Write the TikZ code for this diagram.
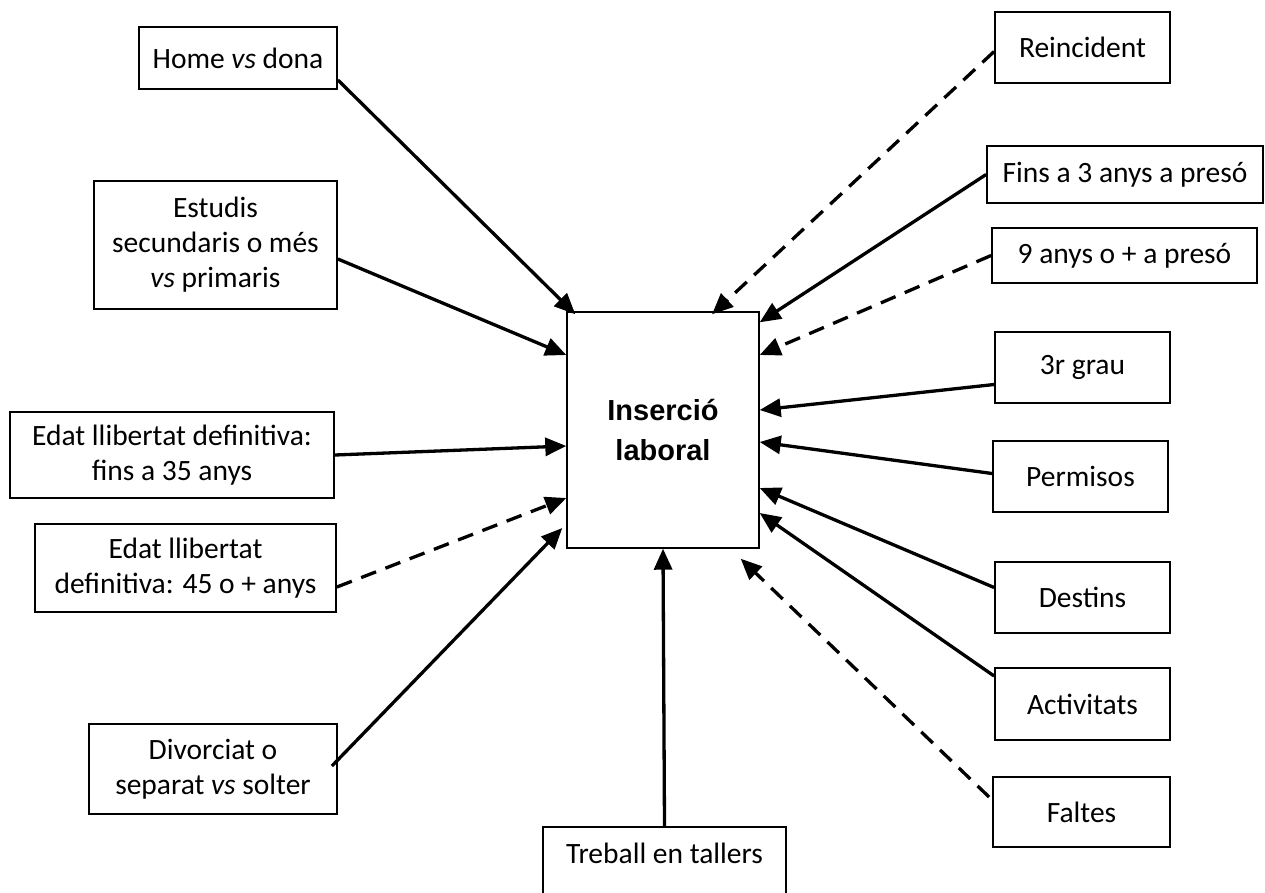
\documentclass[tikz,border=0pt]{standalone}
\usepackage{fontspec}
\setmainfont{Carlito}
\newfontfamily\arialfont{Liberation Sans}
\usetikzlibrary{arrows.meta}

\begin{document}
\begin{tikzpicture}[x=1pt, y=-1pt]
    \tikzstyle{factor}=[draw, line width=1.8pt, inner sep=0pt, align=center, font=\fontsize{29.5}{35}\selectfont]
    \tikzstyle{link}=[line width=3.3pt, -{Triangle[length=21pt, width=18pt]}]
    \tikzstyle{weak}=[link, dash pattern=on 16pt off 10pt]

    \useasboundingbox (0,0) rectangle (1265,892);
    \clip (0,0) rectangle (1265,892);

    \node[draw, line width=1.4pt, minimum width=192pt, minimum height=236pt, align=center, font=\arialfont\bfseries\fontsize{29}{40}\selectfont] (ins) at (663,430) {Inserció\\laboral};

    \node[factor, minimum width=198pt, minimum height=62pt] (home) at (238,58) {Home \textit{vs} dona};
    \node[factor, minimum width=243pt, minimum height=128pt] (estudis) at (215.5,245) {Estudis\\secundaris o més\\\textit{vs} primaris};
    \node[factor, minimum width=324pt, minimum height=86pt] (edat35) at (172,455) {Edat llibertat definitiva:\\fins a 35 anys};
    \node[factor, minimum width=301pt, minimum height=88pt] (edat45) at (185.5,568) {Edat llibertat\\definitiva: 45 o + anys};
    \node[factor, minimum width=248pt, minimum height=90pt] (divorci) at (213,769) {Divorciat o\\separat \textit{vs} solter};
    \node[factor, anchor=base, minimum width=243pt, text height=36pt, text depth=60pt] (treball) at (664.5,863) {Treball en tallers};

    \node[factor, minimum width=175pt, minimum height=71pt] (reinc) at (1082.5,47.5) {Reincident};
    \node[factor, minimum width=276pt, minimum height=57pt] (fins3) at (1125,174.5) {Fins a 3 anys a presó};
    \node[factor, minimum width=265pt, minimum height=55pt] (nou) at (1124.5,255.5) {9 anys o + a presó};
    \node[factor, minimum width=175pt, minimum height=71pt] (grau) at (1082.5,367.5) {3r grau};
    \node[factor, minimum width=175pt, minimum height=71pt] (permis) at (1080.5,476.5) {Permisos};
    \node[factor, minimum width=175pt, minimum height=71pt] (destins) at (1082.5,597.5) {Destins};
    \node[factor, minimum width=175pt, minimum height=72pt] (activ) at (1082.5,704) {Activitats};
    \node[factor, minimum width=177pt, minimum height=70pt] (faltes) at (1081.5,812) {Faltes};

    \draw[link] ([yshift=-22pt]home.east) -- ([xshift=9pt, yshift=-3pt]ins.north west);
    \draw[link] ([yshift=-14pt]estudis.east) -- ([yshift=75pt]ins.west);
    \draw[link] (edat35.east) -- ([yshift=-16pt]ins.west);
    \draw[weak] ([yshift=-19pt]edat45.east) -- ([yshift=-68pt]ins.west);
    \draw[link] ([xshift=-6pt, yshift=3pt]divorci.east) -- ([xshift=-4pt, yshift=-98pt]ins.west);
    \draw[link] (treball.north) -- (ins.south);
    \draw[weak] ([yshift=-4pt]reinc.west) -- ([xshift=49pt, yshift=-3pt]ins.north);
    \draw[link] (fins3.west) -- ([yshift=-11pt]ins.north east);
    \draw[weak] (nou.west) -- ([yshift=75pt]ins.east);
    \draw[link] ([yshift=-17pt]grau.west) -- ([yshift=20pt]ins.east);
    \draw[link] ([yshift=3pt]permis.west) -- ([yshift=-12pt]ins.east);
    \draw[link] ([yshift=10pt]destins.west) -- ([yshift=-58pt]ins.east);
    \draw[link] ([yshift=28pt]activ.west) -- ([yshift=-83pt]ins.east);
    \draw[weak] ([xshift=-3pt, yshift=15pt]faltes.west) -- ([xshift=-19pt, yshift=-10pt]ins.south east);
\end{tikzpicture}
\end{document}
